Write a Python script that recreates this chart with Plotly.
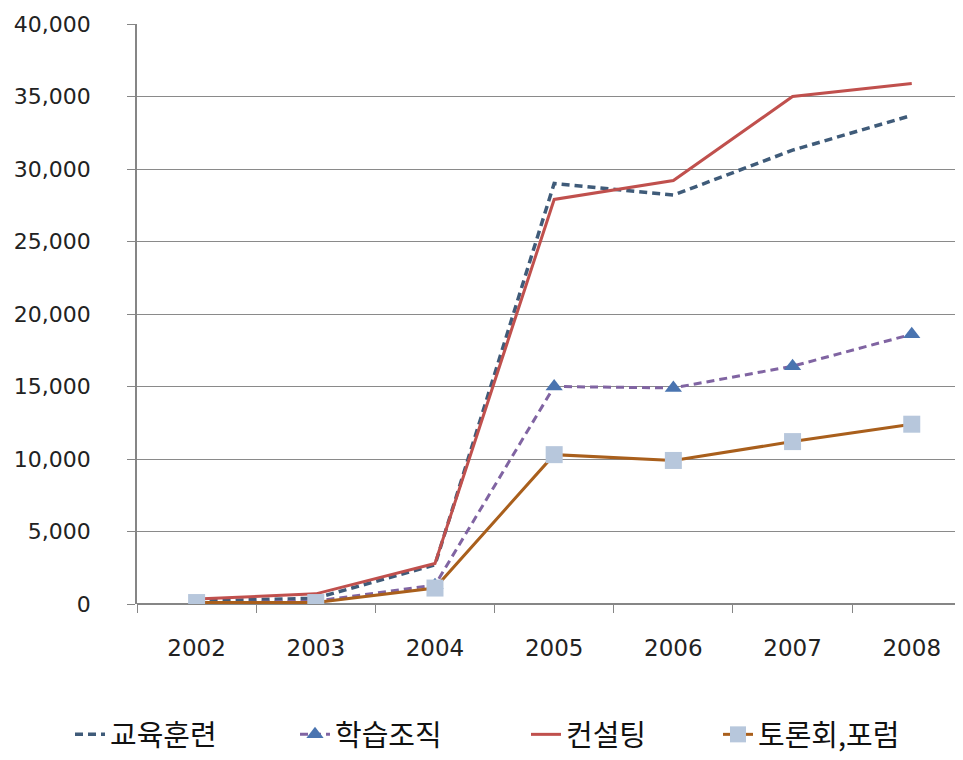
import plotly.graph_objects as go

years = ["2002", "2003", "2004", "2005", "2006", "2007", "2008"]
edu = [200, 400, 2700, 29000, 28200, 31300, 33700]
learn = [50, 200, 1300, 15000, 14900, 16400, 18600]
consult = [350, 700, 2800, 27900, 29200, 35000, 35900]
forum = [100, 100, 1100, 10300, 9900, 11200, 12400]
y_ticks = [0, 5000, 10000, 15000, 20000, 25000, 30000, 35000, 40000]

fig = go.Figure()
fig.add_trace(go.Scatter(x=years, y=edu, name="교육훈련", mode="lines", legend="legend",
                         line=dict(color="#3F5B79", width=3.5, dash="8px,5px")))
fig.add_trace(go.Scatter(x=years, y=learn, name="학습조직", mode="lines+markers", legend="legend2",
                         line=dict(color="#8064A2", width=3, dash="8px,5px"),
                         marker=dict(symbol="triangle-up", size=15, color="#4A74B0")))
fig.add_trace(go.Scatter(x=years, y=consult, name="컨설팅", mode="lines", legend="legend3",
                         line=dict(color="#C0504D", width=3)))
fig.add_trace(go.Scatter(x=years, y=forum, name="토론회,포럼", mode="lines+markers", legend="legend4",
                         line=dict(color="#A95F1C", width=3),
                         marker=dict(symbol="square", size=17, color="#B7C7DC")))

W, H = 955, 752
leg_font = dict(family="Noto Sans CJK KR", size=29, color="#111111")
def leg(xpx):
    return dict(orientation="h", xref="container", x=xpx / W, xanchor="left",
                yref="container", y=0, yanchor="bottom",
                font=leg_font, bgcolor="rgba(0,0,0,0)", itemwidth=30)

fig.update_layout(
    width=W, height=H,
    margin=dict(l=129, r=0, t=16, b=156),
    plot_bgcolor="white", paper_bgcolor="white",
    font=dict(family="DejaVu Sans", size=22, color="#222222"),
    showlegend=True,
    legend=leg(62), legend2=leg(287), legend3=leg(518), legend4=leg(710),
)
fig.update_xaxes(type="category", range=[-0.5, 6.43], tickson="boundaries",
                 ticks="outside", ticklen=8, tickcolor="#868686",
                 showline=False, showgrid=False, zeroline=False, automargin=False,
                 tickfont=dict(size=23), ticklabelstandoff=28)
fig.update_yaxes(range=[0, 40000], tickvals=y_ticks, tickformat=",",
                 ticks="outside", ticklen=8, tickcolor="#868686",
                 showline=True, linecolor="#868686", linewidth=1.5, automargin=False,
                 showgrid=True, gridcolor="#8A8A8A", gridwidth=1.2,
                 zeroline=True, zerolinecolor="#868686", zerolinewidth=1.5,
                 ticklabelstandoff=32)

fig.write_html("out.html")
